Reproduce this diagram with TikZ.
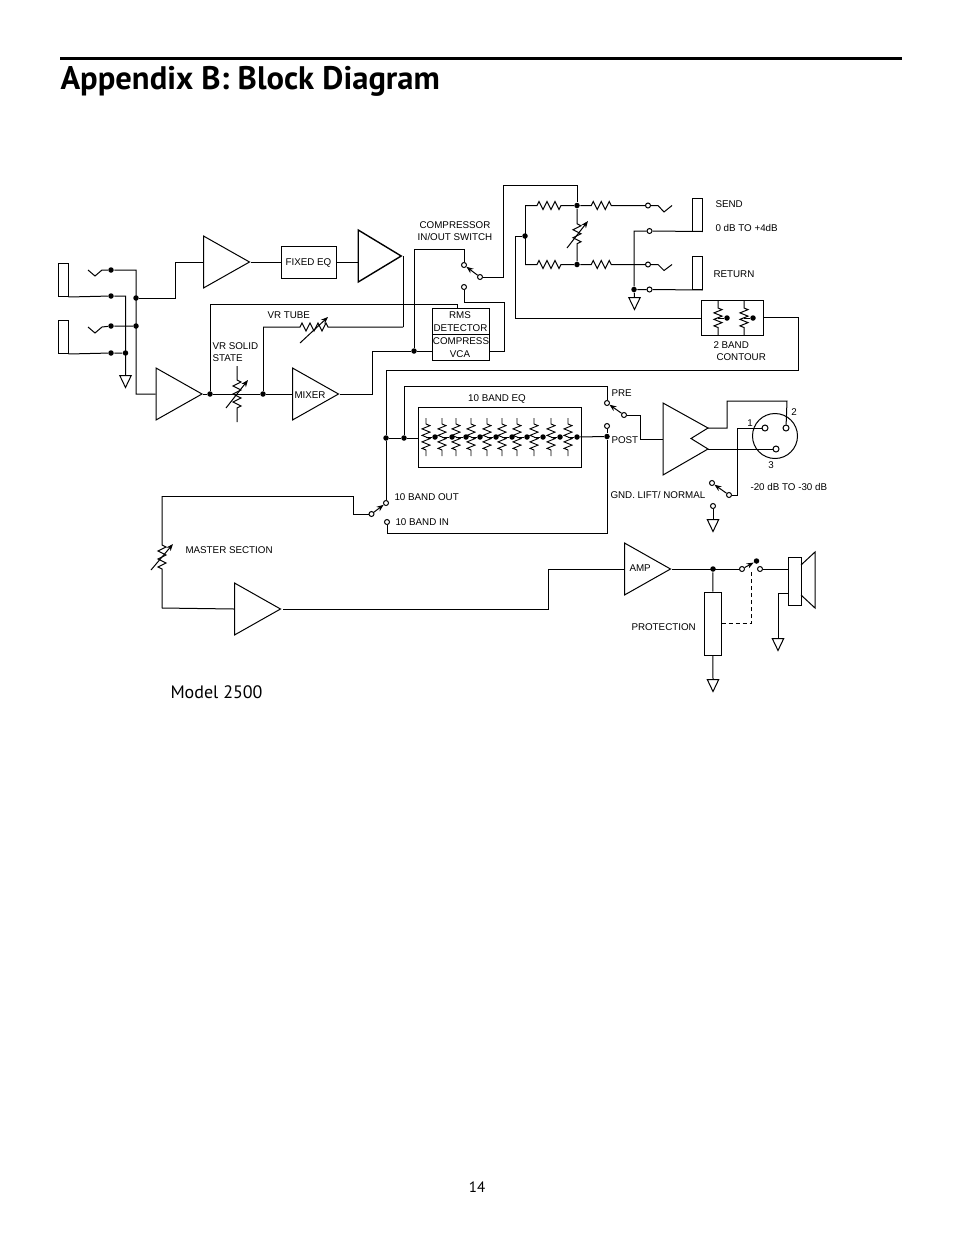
\documentclass[tikz,border=0pt]{standalone}
\usepackage{fontspec}
\setmainfont{Liberation Sans}
\newfontfamily\headfont{PT Sans}
\usetikzlibrary{shapes.geometric,decorations.pathmorphing,arrows.meta}

\begin{document}
\begin{tikzpicture}[x=1pt,y=-1pt,>={Stealth[length=7pt,width=5.5pt]},line width=1pt,line join=miter,
    amp/.style={isosceles triangle,isosceles triangle stretches,draw,inner sep=0pt,anchor=lower side,minimum width=52pt,minimum height=46pt},
    gnd/.style={isosceles triangle,isosceles triangle stretches,shape border rotate=-90,draw,inner sep=0pt,anchor=lower side,minimum width=11.5pt,minimum height=12pt},
    dot/.style={circle,fill=black,inner sep=0pt,minimum size=5.5pt},
    term/.style={circle,draw,fill=white,inner sep=0pt,minimum size=5pt,line width=1pt},
    box/.style={draw,inner sep=0pt},
    jack/.style={box,minimum width=10pt,minimum height=33pt},
    lab/.style={font=\fontsize{9.8pt}{11pt}\selectfont,inner sep=0pt,anchor=west,text height=7pt,text depth=0pt},
    mid/.style={font=\fontsize{9.8pt}{11pt}\selectfont,inner sep=0pt,text height=7pt,text depth=0pt},
    res/.style n args={2}{decorate,decoration={zigzag,amplitude=4pt,segment length=8pt,pre=lineto,pre length=#1,post=lineto,post length=#2}}]

    \useasboundingbox (0,0) rectangle (954,1235);

    \coordinate (rule l) at (60,58);
    \coordinate (rule r) at (902,58);
    \draw[line width=3pt] (rule l) -- (rule r);
    \node[inner sep=0pt,anchor=base west] (title) at (60,89) {\headfont\fontsize{32.6pt}{36pt}\selectfont\bfseries Appendix B: Block Diagram};
    \node[inner sep=0pt,anchor=base west] (model) at (170,698) {\headfont\fontsize{18pt}{20pt}\selectfont Model 2500};
    \node[inner sep=0pt] (page) at (477,1187) {\headfont\fontsize{15pt}{17pt}\selectfont 14};

    \node[jack] (jack1) at (63,280) {};
    \node[jack] (jack2) at (63,337) {};
    \node[dot] (j1t) at (111,270) {};
    \node[dot] (j1s) at (111,296) {};
    \node[dot] (j2t) at (111,326) {};
    \node[dot] (j2s) at (111,353) {};
    \node[dot] (j2g) at (125.5,353) {};
    \node[dot] (tr2) at (136,326) {};
    \node[dot] (tr1) at (136,298) {};
    \node[gnd] (gnd1) at (125.5,375) {};
    \coordinate (j1g) at (125.5,296);
    \coordinate (j1c) at (136,270);
    \coordinate (trb) at (136,394);
    \coordinate (t1a) at (88,270);
    \coordinate (t1b) at (95,276);
    \coordinate (t1c) at (102,270);
    \coordinate (t2a) at (88,327);
    \coordinate (t2b) at (95,333);
    \coordinate (t2c) at (102,327);
    \coordinate (up1) at (175,298);

    \node[amp] (amp1) at (203,262) {};
    \node[box,minimum width=55pt,minimum height=32pt] (fixed) at (308.5,262) {};
    \node[mid] (fixed t) at (308.5,261.5) {FIXED EQ};
    \node[amp,line width=1.4pt,minimum height=43pt] (amp3) at (357.5,256) {};
    \node[amp] (amp2) at (155.5,394) {};
    \node[amp] (mixer) at (292,394) {};
    \node[lab] (mixer t) at (294,395) {MIXER};

    \node[dot] (a2o) at (210,394) {};
    \node[dot] (vrt) at (263,394) {};
    \coordinate (vrs t) at (237,366);
    \coordinate (vrs b) at (237,422);
    \coordinate (vrs a) at (226,408);
    \coordinate (vrs z) at (248,380);
    \coordinate (rms l) at (210,304);
    \coordinate (rms c) at (457,304);
    \coordinate (tube l) at (263,327);
    \coordinate (tube r) at (amp3.apex |- tube l);
    \coordinate (tube a) at (300,343);
    \coordinate (tube z) at (328,317);
    \coordinate (mix c) at (372,351);

    \node[box,minimum width=57pt,minimum height=26pt] (rms) at (460.5,321) {};
    \node[box,minimum width=57pt,minimum height=26pt] (vca) at (460.5,347) {};
    \node[mid] (rms t1) at (460,315) {RMS};
    \node[mid] (rms t2) at (460.5,327.5) {DETECTOR};
    \node[mid] (vca t1) at (461,341) {COMPRESS};
    \node[mid] (vca t2) at (460,354) {VCA};
    \node[dot] (cmp) at (414,351) {};
    \node[term] (sw1a) at (464,265) {};
    \node[term] (sw1b) at (464,287) {};
    \node[term] (sw1c) at (480,277) {};
    \coordinate (sw1 up) at (464,249);
    \coordinate (sw1 dn) at (464,302);
    \coordinate (sw1 r) at (504,302);
    \coordinate (cmp r) at (504,351);
    \coordinate (ret c) at (503,277);
    \coordinate (ret t) at (503,185.5);

    \node[dot] (fxl) at (525,236) {};
    \node[dot] (rt) at (577,205.5) {};
    \node[dot] (rb) at (577,264.5) {};
    \coordinate (ltop) at (525,205.5);
    \coordinate (lbot) at (525,264.5);
    \coordinate (fxt) at (577,185.5);
    \coordinate (pot a) at (567,248);
    \coordinate (pot z) at (588,221);
    \node[term] (st) at (648,205.5) {};
    \node[term] (rt2) at (648,264.5) {};
    \coordinate (sa) at (658,205.5);
    \coordinate (sb) at (664,212);
    \coordinate (sc) at (672,205.5);
    \coordinate (ra) at (658,264.5);
    \coordinate (rb2) at (664,270.5);
    \coordinate (rc) at (672,264.5);
    \node[jack] (send) at (697,214.5) {};
    \node[jack] (return) at (697,273) {};
    \node[term] (ss) at (649.5,231) {};
    \node[term] (rs) at (649.5,289.5) {};
    \node[dot] (gj) at (634,289.5) {};
    \coordinate (gjt) at (634,231);
    \node[gnd] (gnd2) at (634.5,297) {};

    \node[box,minimum width=62pt,minimum height=34.5pt] (contour) at (732,318) {};
    \node[dot] (c1d) at (727,318) {};
    \node[dot] (c2d) at (753,318) {};
    \coordinate (c1t) at (718,301);
    \coordinate (c1b) at (718,335);
    \coordinate (c1m) at (718,318);
    \coordinate (c2t) at (744,301);
    \coordinate (c2b) at (744,335);
    \coordinate (c2m) at (744,318);
    \coordinate (con r) at (798.5,317.5);
    \coordinate (con b) at (798.5,370.5);
    \coordinate (con l) at (386,370.5);
    \coordinate (fx a) at (515.5,318);
    \coordinate (fx b) at (515.5,236);

    \node[dot] (eq0) at (386,438) {};
    \node[dot] (eq1) at (404,438) {};
    \node[box,minimum width=163pt,minimum height=60pt] (eq) at (499.5,437) {};
    \coordinate (eq1t) at (404,386);
    \coordinate (pre c) at (607,386);
    \node[term] (pre) at (607,403) {};
    \node[term] (post) at (607,426) {};
    \node[dot] (pot2) at (607,436.5) {};
    \node[term] (pre o) at (624,415) {};
    \coordinate (pre r) at (640,415);
    \coordinate (pre b) at (640,439);
    \coordinate (post b) at (607,533);
    \coordinate (in c) at (387,533);
    \node[term] (b out) at (386,503) {};
    \node[term] (b in) at (387,522) {};
    \node[term] (b sw) at (371.5,514) {};

    \foreach \zx/\dx [count=\i] in {426/435,442/452,456/466,471/480,487/496,502/512,517/527,534/543,551/560,568/577} {
        \coordinate (z\i-t) at (\zx,418);
        \coordinate (z\i-b) at (\zx,456);
        \coordinate (z\i-m) at (\zx,437);
        \node[dot] (z\i-d) at (\dx,437) {};
        \draw[res={6pt}{6pt},line width=0.9pt,decoration={segment length=6.5pt}] (z\i-t) -- (z\i-b);
        \draw (z\i-m) -- (z\i-d);
    }

    \coordinate (bal a) at (663,403);
    \coordinate (bal b) at (708,428);
    \coordinate (bal c) at (691,438.5);
    \coordinate (bal d) at (708,449);
    \coordinate (bal e) at (663,475);
    \coordinate (bal m) at (663,439);
    \draw (bal a) -- (bal b) -- (bal c) -- (bal d) -- (bal e) -- cycle;
    \node[circle,draw,inner sep=0pt,minimum size=45pt] (xlr) at (775,436) {};
    \node[term,minimum size=6pt] (pin1) at (765,428) {};
    \node[term,minimum size=6pt] (pin2) at (786,428) {};
    \node[term,minimum size=6pt] (pin3) at (776,449) {};
    \coordinate (p2a) at (727,428);
    \coordinate (p2b) at (727,401);
    \coordinate (p2c) at (787,401);
    \coordinate (p1a) at (737,428);
    \coordinate (p1b) at (737,495);
    \node[term] (lift o) at (729,495) {};
    \node[term] (lift a) at (712,483) {};
    \node[term] (lift b) at (713,506) {};
    \node[gnd] (gnd3) at (713,519) {};

    \coordinate (out a) at (353,514);
    \coordinate (out b) at (353,496);
    \coordinate (out c) at (162,496);
    \coordinate (mst a) at (151,570);
    \coordinate (mst z) at (173,544);
    \coordinate (mst b) at (162,608);
    \node[amp] (amp4) at (234,609) {};
    \coordinate (a4o) at (283,609);
    \coordinate (a4c) at (548,609);
    \coordinate (a4d) at (548,569);
    \node[amp] (amp5) at (624,569) {};
    \node[lab] (amp5 t) at (629,568) {AMP};
    \node[dot] (spk d) at (713,569) {};
    \node[term] (spk a) at (742,569) {};
    \node[term] (spk b) at (760,569) {};
    \node[dot] (spk c) at (756.5,561) {};
    \node[box,minimum width=17pt,minimum height=63pt] (prot) at (712.5,623.5) {};
    \node[gnd] (gnd4) at (713,679) {};
    \node[box,minimum width=13pt,minimum height=48pt] (spk) at (794.5,581) {};
    \coordinate (cone a) at (801,565);
    \coordinate (cone b) at (815,552);
    \coordinate (cone c) at (815,608);
    \coordinate (cone d) at (801,595);
    \coordinate (spk e) at (778,593);
    \node[gnd] (gnd5) at (778,638) {};
    \coordinate (dash a) at (751.5,623);
    \coordinate (dash b) at (751.5,570);

    \node[mid] (l1) at (455,224.5) {COMPRESSOR};
    \node[mid] (l2) at (455,236.5) {IN/OUT SWITCH};
    \node[lab] (l3) at (715,203.5) {SEND};
    \node[lab] (l4) at (715,228) {0 dB TO +4dB};
    \node[lab] (l5) at (713,273.5) {RETURN};
    \node[lab] (l6) at (713,344.5) {2 BAND};
    \node[lab] (l7) at (716,356.5) {CONTOUR};
    \node[lab] (l8) at (267,315) {VR TUBE};
    \node[lab] (l9) at (212,346) {VR SOLID};
    \node[lab] (l10) at (212,358) {STATE};
    \node[lab] (l11) at (185,549.5) {MASTER SECTION};
    \node[mid] (l12) at (497,398) {10 BAND EQ};
    \node[lab] (l13) at (611,393) {PRE};
    \node[lab] (l14) at (611,439.5) {POST};
    \node[lab] (l15) at (610,494.5) {GND. LIFT/ NORMAL};
    \node[lab] (l16) at (394,496.5) {10 BAND OUT};
    \node[lab] (l17) at (395,521.5) {10 BAND IN};
    \node[lab] (l18) at (750,487) {-20 dB TO -30 dB};
    \node[mid] (l19) at (750,423) {1};
    \node[mid] (l20) at (794,412) {2};
    \node[mid] (l21) at (771,464.5) {3};
    \node[lab] (l22) at (631,626.5) {PROTECTION};

    \draw (jack1.south east) -- (j1s) -- (j1g) -- (gnd1.lower side);
    \draw (jack2.south east) -- (j2s) -- (j2g);
    \draw (t1a) -- (t1b) -- (t1c) -- (j1t) -- (j1c) -- (trb) -- (amp2.lower side);
    \draw (t2a) -- (t2b) -- (t2c) -- (j2t) -- (tr2);
    \draw (tr1) -- (up1) |- (amp1.lower side);
    \draw (amp1.apex) -- (fixed);
    \draw (fixed) -- (fixed -| amp3.lower side);
    \draw (amp2.apex) -- (a2o) -- (vrt) -- (mixer.lower side);
    \draw[res={14pt}{12pt}] (vrs t) -- (vrs b);
    \draw[->] (vrs a) -- (vrs z);
    \draw (a2o) -- (rms l) -- (rms c) -- (rms.north -| rms c);
    \draw (vrt) -- (tube l);
    \draw[res={37pt}{74pt}] (tube l) -- (tube r);
    \draw[->] (tube a) -- (tube z);
    \draw (tube r) -- (amp3.apex);
    \draw (mixer.apex) -| (mix c) -- (cmp) -- (vca.west |- cmp);
    \draw (cmp) |- (sw1 up) -- (sw1a);
    \draw[->] (sw1c) -- (sw1a);
    \draw (sw1b) -- (sw1 dn) -- (sw1 r) -- (cmp r) -- (vca.east |- cmp r);
    \draw (sw1c) -- (ret c) -- (ret t) -- (fxt) -- (rt);
    \draw (con r) -- (contour.east |- con r);
    \draw (contour.west |- fx a) -- (fx a) -- (fx b) -- (fxl);
    \draw (ltop) -- (lbot);
    \draw[res={12pt}{12pt}] (ltop) -- (rt);
    \draw[res={12pt}{12pt}] (lbot) -- (rb);
    \draw[res={11pt}{32pt}] (rt) -- (st);
    \draw[res={11pt}{32pt}] (rb) -- (rt2);
    \draw[res={15pt}{14pt}] (rt) -- (rb);
    \draw[->] (pot a) -- (pot z);
    \draw (st) -- (sa) -- (sb) -- (sc);
    \draw (rt2) -- (ra) -- (rb2) -- (rc);
    \draw (send.south east) -- (ss) -- (gjt) -- (gj) -- (gnd2.lower side);
    \draw (return.south east) -- (rs) -- (gj);
    \draw[res={7pt}{5pt},decoration={segment length=6.5pt}] (c1t) -- (c1b);
    \draw[res={7pt}{5pt},decoration={segment length=6.5pt}] (c2t) -- (c2b);
    \draw (c1m) -- (c1d);
    \draw (c2m) -- (c2d);
    \draw (con r) -- (con b) -- (con l) -- (eq0) -- (b out);
    \draw (eq0) -- (eq1) -- (eq.west |- eq1);
    \draw (eq1) -- (eq1t) -- (pre c) -- (pre);
    \draw (z10-d) -- (pot2);
    \draw (post) -- (pot2) -- (post b) -- (in c) -- (b in);
    \draw[->] (pre o) -- (pre);
    \draw (pre o) -- (pre r) -- (pre b) -- (bal m);
    \draw (bal b) -- (p2a) -- (p2b) -- (p2c) -- (pin2);
    \draw (bal d) -- (pin3);
    \draw (pin1) -- (p1a) -- (p1b) -- (lift o);
    \draw[->] (lift o) -- (lift a);
    \draw (lift b) -- (gnd3.lower side);
    \draw[->] (b sw) -- (b out);
    \draw (b sw) -- (out a) -- (out b) -- (out c);
    \draw[res={49pt}{37pt}] (out c) -- (mst b);
    \draw (mst b) -- (amp4.lower side);
    \draw[->] (mst a) -- (mst z);
    \draw (a4o) -- (a4c) -- (a4d) -- (amp5.lower side);
    \draw (amp5.apex) -- (spk a);
    \draw[->] (spk a) -- (spk c);
    \draw (spk d) -- (prot);
    \draw (prot) -- (gnd4.lower side);
    \draw (spk b) -- (spk.west |- spk b);
    \draw (cone a) -- (cone b) -- (cone c) -- (cone d);
    \draw (spk.west |- spk e) -- (spk e) -- (gnd5.lower side);
    \draw[dash pattern=on 4pt off 3pt] (prot.east |- dash a) -- (dash a) -- (dash b);
\end{tikzpicture}
\end{document}
